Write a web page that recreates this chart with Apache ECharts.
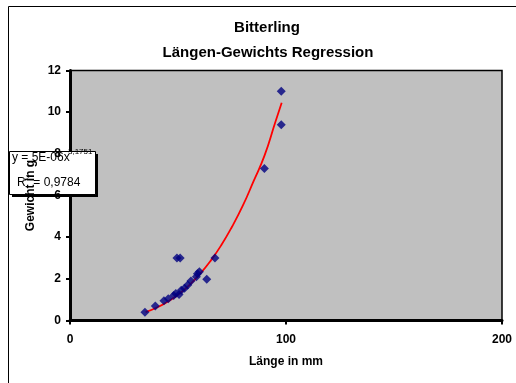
<!DOCTYPE html>
<html>
<head>
<meta charset="utf-8">
<script src="https://cdn.jsdelivr.net/npm/echarts@6/dist/echarts.min.js"></script>
<style>
  html, body { margin: 0; padding: 0; background: #fff; }
  #chart { width: 516px; height: 383px; }
</style>
</head>
<body>
<div id="chart"></div>
<script>
// Bitterling length (mm) vs weight (g)
const lengthMm = [34.7, 39.5, 43.5, 45.5, 48, 49, 50.5, 51.5, 53, 54.5, 56, 58.5, 59, 59.9, 63.3, 67.1, 49.5, 51, 90, 97.8, 97.8];
const weightG = [0.4, 0.7, 0.95, 1.05, 1.2, 1.3, 1.25, 1.45, 1.55, 1.7, 1.9, 2.1, 2.25, 2.34, 1.98, 3.0, 3.0, 3.0, 7.3, 9.4, 11.0];

// power trendline
const trendX = [35, 40, 45, 50, 55, 60, 65, 70, 75, 80, 85, 90, 95, 98];
const trendY = [0.4, 0.61, 0.89, 1.24, 1.68, 2.21, 2.85, 3.61, 4.5, 5.51, 6.69, 7.9, 9.5, 10.45];

const xTicks = [0, 100, 200];
const yTicks = [0, 2, 4, 6, 8, 10, 12];

const titleLines = ["Bitterling", "Längen-Gewichts Regression"];
const eqText = "y = 5E-06x";
const eqExp = "3,1751";
const r2Text = " = 0,9784";

const font = "Liberation Sans, Arial, sans-serif";

const chart = echarts.init(document.getElementById("chart"));

const yBase = {
  type: "value",
  min: yTicks[0],
  max: yTicks[yTicks.length - 1],
  interval: 2,
  position: "left",
  splitLine: { show: false },
};

chart.setOption({
  animation: false,
  grid: {
    left: 70,
    right: 14,
    top: 70.5,
    bottom: 62.5,
    show: true,
    backgroundColor: "#c0c0c0",
    borderColor: "#000",
    borderWidth: 1.5,
    z: 0,
  },
  xAxis: {
    type: "value",
    min: xTicks[0],
    max: xTicks[xTicks.length - 1],
    interval: 100,
    splitLine: { show: false },
    axisLine: { lineStyle: { color: "#000", width: 3 } },
    axisTick: { length: 4, lineStyle: { color: "#000", width: 2 } },
    axisLabel: { color: "#000", fontFamily: font, fontWeight: "bold", fontSize: 12, margin: 13 },
    name: "Länge in mm",
    nameLocation: "middle",
    nameGap: 35,
    nameTextStyle: { color: "#000", fontFamily: font, fontWeight: "bold", fontSize: 12 },
  },
  yAxis: [
    Object.assign({}, yBase, {
      z: 1,
      axisLine: { show: true, lineStyle: { color: "#000", width: 3 } },
      axisTick: { show: true, length: 4, lineStyle: { color: "#000", width: 2 } },
      axisLabel: { show: false },
    }),
    Object.assign({}, yBase, {
      z: 10,
      offset: 0,
      axisLine: { show: false },
      axisTick: { show: false },
      axisLabel: { color: "#000", fontFamily: font, fontWeight: "bold", fontSize: 12, margin: 9 },
      name: "Gewicht in g",
      nameLocation: "middle",
      nameGap: 27,
      nameTextStyle: { color: "#000", fontFamily: font, fontWeight: "bold", fontSize: 12 },
    }),
  ],
  graphic: [
    {
      type: "rect",
      shape: { x: 8.5, y: 6.5, width: 700, height: 600 },
      style: { fill: "none", stroke: "#000", lineWidth: 1 },
      z: 0,
    },
    {
      type: "text",
      style: { text: titleLines[0], x: 267, y: 28, align: "center", verticalAlign: "middle",
               font: "bold 15px " + font, fill: "#000" },
    },
    {
      type: "text",
      style: { text: titleLines[1], x: 268, y: 53, align: "center", verticalAlign: "middle",
               font: "bold 15px " + font, fill: "#000" },
    },
    {
      type: "group",
      z: 5,
      children: [
        { type: "rect", z: 5, shape: { x: 12, y: 154, width: 86, height: 43 }, style: { fill: "#000" } },
        { type: "rect", z: 5, shape: { x: 9.5, y: 151.5, width: 86, height: 43 },
          style: { fill: "#fff", stroke: "#000", lineWidth: 1 } },
        { type: "text", z: 6, style: { text: eqText, x: 12, y: 158, align: "left", verticalAlign: "middle",
               font: "12px " + font, fill: "#000" } },
        { type: "text", z: 6, style: { text: eqExp, x: 68, y: 152, align: "left", verticalAlign: "middle",
               font: "8px " + font, fill: "#000" } },
        { type: "text", z: 6, style: { text: "R", x: 17, y: 183, align: "left", verticalAlign: "middle",
               font: "12px " + font, fill: "#000" } },
        { type: "text", z: 6, style: { text: "2", x: 25.5, y: 178, align: "left", verticalAlign: "middle",
               font: "8px " + font, fill: "#000" } },
        { type: "text", z: 6, style: { text: r2Text, x: 30, y: 183, align: "left", verticalAlign: "middle",
               font: "12px " + font, fill: "#000" } },
      ],
    },
  ],
  series: [
    {
      type: "line",
      z: 3,
      data: trendX.map((x, i) => [x, trendY[i]]),
      smooth: true,
      showSymbol: false,
      lineStyle: { color: "#ff0000", width: 1.8 },
    },
    {
      type: "scatter",
      z: 4,
      data: lengthMm.map((x, i) => [x, weightG[i]]),
      symbol: "diamond",
      symbolSize: 9,
      itemStyle: { color: "#000080" },
    },
  ],
});
</script>
</body>
</html>
